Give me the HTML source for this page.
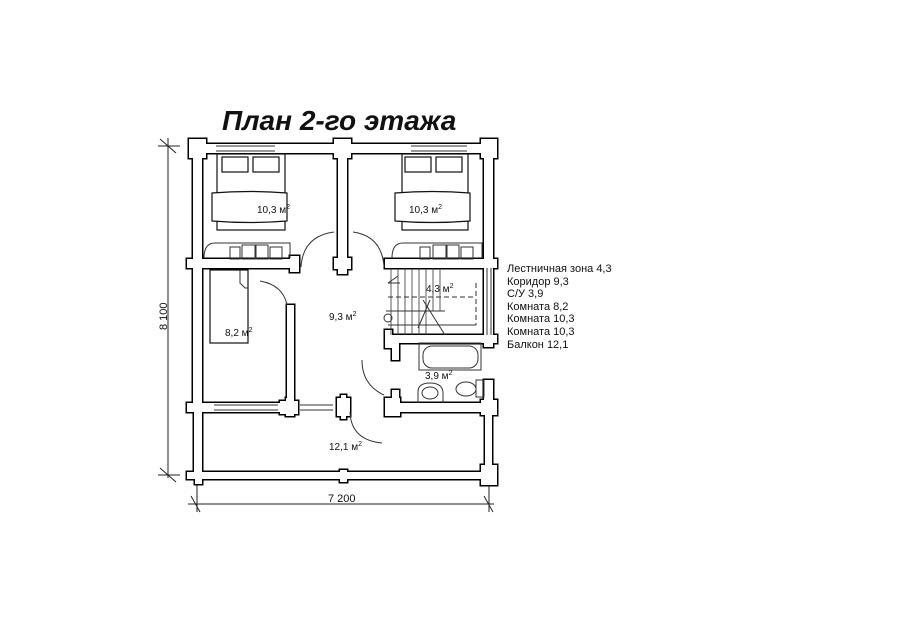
<!DOCTYPE html>
<html><head><meta charset="utf-8"><style>
html,body{margin:0;padding:0;background:#fff;}
svg{display:block;}
text{font-family:"Liberation Sans",sans-serif;fill:#111;}
</style></head><body>
<svg width="900" height="636" viewBox="0 0 900 636" xmlns="http://www.w3.org/2000/svg">
<rect width="900" height="636" fill="#fff"/>
<text x="222" y="130" font-size="28" font-weight="bold" font-style="italic">План 2-го этажа</text>

<g stroke="#222" stroke-width="1" fill="none">
<line x1="168" y1="138" x2="168" y2="478"/>
<line x1="160" y1="139" x2="176" y2="153"/><line x1="158" y1="146" x2="180" y2="146"/>
<line x1="160" y1="468" x2="176" y2="482"/><line x1="158" y1="475" x2="180" y2="475"/>
<line x1="188" y1="504" x2="494" y2="504"/>
<line x1="191" y1="496" x2="200" y2="512"/><line x1="197" y1="480" x2="197" y2="512"/>
<line x1="484" y1="496" x2="493" y2="512"/><line x1="489" y1="480" x2="489" y2="512"/>
</g>
<text x="0" y="0" font-size="11" transform="translate(167,330) rotate(-90)">8 100</text>
<text x="328" y="502" font-size="11">7 200</text>

<defs>
<g id="w">
<rect x="193" y="144" width="300" height="9"/>
<rect x="193" y="144" width="9" height="268"/>
<rect x="484" y="144" width="9" height="203"/>
<rect x="484" y="380" width="9" height="32"/>
<rect x="338" y="144" width="9" height="123"/>
<rect x="187" y="259" width="112" height="9"/>
<rect x="385" y="259" width="112" height="9"/>
<rect x="187" y="403" width="111" height="9"/>
<rect x="287" y="305" width="7" height="107"/>
<rect x="385" y="335" width="112" height="8"/>
<rect x="392" y="335" width="7" height="25"/>
<rect x="392" y="390" width="7" height="22"/>
<rect x="385" y="403" width="112" height="9"/>
<rect x="194" y="412" width="8" height="62"/>
<rect x="485" y="412" width="7" height="60"/>
<rect x="187" y="472" width="310" height="7"/>
<rect x="189" y="139" width="17" height="19"/>
<rect x="481" y="139" width="16" height="19"/>
<rect x="334" y="139" width="17" height="19"/>
<rect x="334" y="258" width="17" height="11"/><rect x="338" y="258" width="9" height="16"/>
<rect x="290" y="256" width="9" height="16"/>
<rect x="280" y="401" width="18" height="13"/><rect x="286" y="398" width="8" height="18"/>
<rect x="337" y="398" width="13" height="18"/><rect x="341" y="395" width="5" height="24"/>
<rect x="385" y="398" width="15" height="18"/>
<rect x="481" y="400" width="16" height="15"/>
<rect x="481" y="465" width="16" height="20"/>
<rect x="195" y="470" width="7" height="14"/>
<rect x="340" y="470" width="7" height="12"/>
<rect x="385" y="330" width="7" height="18"/>
</g>
</defs>
<use href="#w" fill="#000" stroke="#000" stroke-width="3"/>
<use href="#w" fill="#fff" stroke="none"/>

<g stroke="#333" stroke-width="1" fill="none">
<line x1="216" y1="146" x2="275" y2="146"/><line x1="216" y1="151" x2="275" y2="151"/>
<line x1="411" y1="146" x2="467" y2="146"/><line x1="411" y1="151" x2="467" y2="151"/>
<line x1="214" y1="405" x2="278" y2="405"/><line x1="214" y1="410" x2="278" y2="410"/>
<line x1="300" y1="405" x2="333" y2="405"/><line x1="300" y1="410" x2="333" y2="410"/>
<line x1="487" y1="268" x2="487" y2="335"/><line x1="491" y1="268" x2="491" y2="335"/>
</g>

<g stroke="#111" stroke-width="1.2" fill="#fff">
<rect x="217" y="154" width="68" height="76"/>
<rect x="222" y="157" width="26" height="15"/><rect x="253" y="157" width="26" height="15"/>
<path d="M212 193 Q250 190 287 193 L287 221 Q250 224 212 221 Z"/>
<rect x="402" y="154" width="66" height="76"/>
<rect x="405" y="157" width="26" height="15"/><rect x="436" y="157" width="26" height="15"/>
<path d="M395 193 Q432 190 470 193 L470 221 Q432 224 395 221 Z"/>
<rect x="210" y="270" width="38" height="73"/>
</g>
<g stroke="#333" stroke-width="1" fill="none">
<path d="M204 258 Q204 243 215 243 L290 243 L290 258"/>
<rect x="230" y="247" width="10" height="12"/><rect x="242" y="245" width="13" height="14"/><rect x="256" y="245" width="12" height="14"/><rect x="270" y="247" width="12" height="12"/>
<path d="M392 258 Q392 243 403 243 L482 243 L482 258"/>
<rect x="420" y="247" width="10" height="12"/><rect x="433" y="245" width="13" height="14"/><rect x="447" y="245" width="12" height="14"/><rect x="461" y="247" width="12" height="12"/>
<path d="M240 270 L240 283 L245 288 L248 288"/>
<path d="M301 267 Q303 236 334 232"/><path d="M353 232 Q382 236 384 267"/>
<path d="M260 281 Q283 285 287 305"/>
<path d="M362 360 Q362 385 384 395"/><path d="M350 412 Q351 440 382 443"/>
<line x1="388" y1="297" x2="476" y2="297" stroke-dasharray="5 3"/>
<line x1="476" y1="283" x2="476" y2="325" stroke-dasharray="5 3"/>
<line x1="388" y1="325" x2="476" y2="325"/>
<path d="M386 311 L445 311 M388 283 L400 283 M388 283 L398 276"/>
<g stroke-width="0.8"><line x1="391" y1="268" x2="391" y2="335"/><line x1="398" y1="268" x2="398" y2="335"/><line x1="405" y1="268" x2="405" y2="335"/><line x1="412" y1="268" x2="412" y2="335"/><line x1="419" y1="268" x2="419" y2="335"/><line x1="426" y1="268" x2="426" y2="335"/><line x1="433" y1="268" x2="433" y2="311"/><line x1="440" y1="268" x2="440" y2="311"/></g>
<line x1="423" y1="300" x2="445" y2="335"/><line x1="430" y1="300" x2="418" y2="328"/>
<circle cx="388" cy="318" r="4"/>
<rect x="419" y="343" width="62" height="27"/>
<rect x="423" y="346" width="55" height="22" rx="9"/>
<path d="M418 403 L418 392 Q418 383 430 383 Q442 383 443 392 L443 403"/>
<ellipse cx="430" cy="393" rx="8" ry="6"/>
<ellipse cx="466" cy="389" rx="10" ry="7"/>
<rect x="476" y="380" width="8" height="17"/>
</g>

<g font-size="10">
<text x="257" y="213">10,3 м<tspan font-size="7" dy="-4">2</tspan></text>
<text x="409" y="213">10,3 м<tspan font-size="7" dy="-4">2</tspan></text>
<text x="225" y="336">8,2 м<tspan font-size="7" dy="-4">2</tspan></text>
<text x="329" y="320">9,3 м<tspan font-size="7" dy="-4">2</tspan></text>
<text x="426" y="292">4,3 м<tspan font-size="7" dy="-4">2</tspan></text>
<text x="425" y="379">3,9 м<tspan font-size="7" dy="-4">2</tspan></text>
<text x="329" y="450">12,1 м<tspan font-size="7" dy="-4">2</tspan></text>
</g>
<g font-size="11">
<text x="507" y="272">Лестничная зона 4,3</text>
<text x="507" y="285">Коридор 9,3</text>
<text x="507" y="297">С/У 3,9</text>
<text x="507" y="310">Комната 8,2</text>
<text x="507" y="322">Комната 10,3</text>
<text x="507" y="335">Комната 10,3</text>
<text x="507" y="348">Балкон 12,1</text>
</g>
</svg>
</body></html>
